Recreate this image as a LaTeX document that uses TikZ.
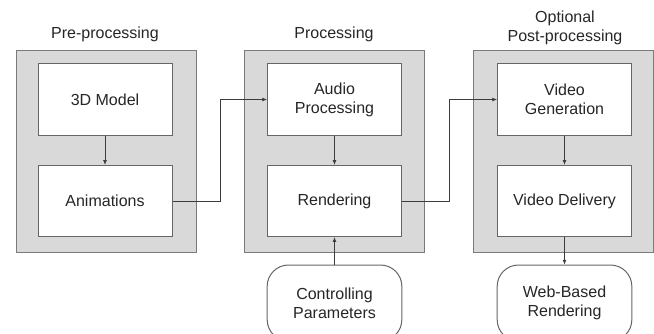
\documentclass[tikz,border=0pt]{standalone}
\usepackage{fontspec}
\setmainfont{Liberation Sans}
\usetikzlibrary{arrows.meta,calc}
\definecolor{grpfill}{HTML}{D9D9D9}
\definecolor{grpline}{HTML}{7A7A7A}
\definecolor{boxline}{HTML}{666666}
\definecolor{txt}{HTML}{262626}
\begin{document}
\begin{tikzpicture}[x=0.75pt,y=-0.75pt,
  group/.style={draw=grpline,fill=grpfill,line width=0.75pt,minimum width=135pt,minimum height=151.5pt,inner sep=0pt},
  stage/.style={draw=boxline,fill=white,line width=0.75pt,minimum width=100.5pt,minimum height=53.5pt,inner sep=0pt,align=center,font=\fontsize{12}{14.3}\selectfont,text=txt},
  term/.style={draw=boxline,fill=white,line width=0.75pt,rounded corners=16pt,minimum width=101pt,minimum height=57pt,inner sep=0pt,align=center,font=\fontsize{12}{14.3}\selectfont,text=txt},
  title/.style={align=center,font=\fontsize{12}{14.3}\selectfont,text=txt,inner sep=0pt},
  conn/.style={draw=txt!90,line width=0.6pt,-{Latex[length=3.5pt,width=3pt]}}
  ]
\path[use as bounding box] (0,0) rectangle (654,333);
\clip (0,0) rectangle (654,333);
% groups
\node[group] (g1) at (106,151) {};
\node[group] (g2) at (334.5,151) {};
\node[group] (g3) at (563,151) {};
% titles
\node[title] (t1) at (105,34) {Pre-processing};
\node[title] (t2) at (334,34) {Processing};
\node[title] (t3) at (565,27.5) {Optional\\Post-processing};
% stages
\node[stage] (model) at (105,99.5) {3D Model};
\node[stage] (anim) at (105,201) {Animations};
\node[stage] (audio) at (334.5,99.5) {Audio\\Processing};
\node[stage] (render) at (334.5,201) {Rendering};
\node[stage] (vgen) at (564.5,99.5) {Video\\Generation};
\node[stage] (vdel) at (564.5,201) {Video Delivery};
% terminals
\node[term] (ctrl) at (334.5,303) {Controlling\\Parameters};
\node[term] (web) at (564.5,303) {Web-Based\\Rendering};
% connectors
\coordinate (b1) at (220,201);
\coordinate (b2) at (449,201);
\draw[conn] (model) -- (anim);
\draw[conn] (audio) -- (render);
\draw[conn] (vgen) -- (vdel);
\draw[conn] (anim.east) -- (b1) |- (audio.west);
\draw[conn] (render.east) -- (b2) |- (vgen.west);
\draw[conn] (ctrl) -- (render);
\draw[conn] (vdel) -- (web);
\end{tikzpicture}
\end{document}
